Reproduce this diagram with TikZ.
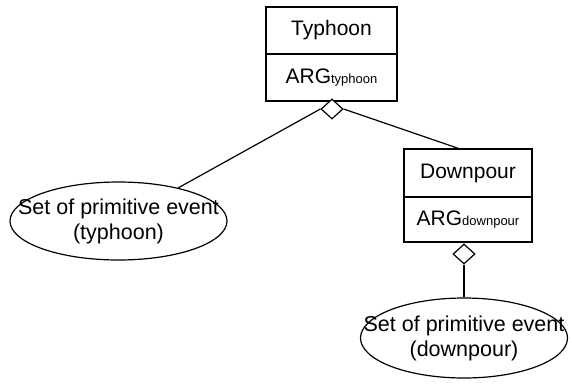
\documentclass[tikz,border=0pt]{standalone}
\usepackage{fontspec}
\setmainfont{Liberation Sans}
\usetikzlibrary{shapes.geometric}
\usetikzlibrary{positioning}
\tikzstyle{cls}=[rectangle,draw,line width=1.2pt,minimum width=131pt,minimum height=47pt,inner sep=0pt,outer sep=0pt,font=\fontsize{21}{25}\selectfont]
\tikzstyle{agg}=[diamond,draw,line width=1.2pt,fill=white,minimum width=22pt,minimum height=20pt,inner sep=0pt]
\tikzstyle{evset}=[ellipse,draw,line width=1.2pt,inner sep=0pt,align=center,font=\fontsize{21.5}{25}\selectfont]
\newcommand{\argsub}[1]{ARG{\fontsize{13}{13}\selectfont #1}}
\newcommand{\nowd}[1]{\makebox[0pt]{#1}}

\begin{document}
\begin{tikzpicture}[x=1pt,y=-1pt]
  \useasboundingbox (0,0) rectangle (572,383);
  \node[cls] (TyN) at (331.5,30.5) {Typhoon};
  \node[cls,below=0pt of TyN] (TyA) {\argsub{typhoon}};
  \node[agg] (TyD) at (332,109) {};
  \node[cls,minimum width=128pt,minimum height=48pt] (DoN) at (468,173) {Downpour};
  \node[cls,minimum width=128pt,minimum height=45pt,below=0pt of DoN] (DoA) {\argsub{downpour}};
  \node[agg] (DoD) at (464,254) {};
  \node[evset,minimum width=217pt,minimum height=78pt] (SetT) at (118.5,221) {\nowd{Set of primitive event}\\\nowd{(typhoon)}};
  \node[evset,minimum width=207pt,minimum height=80pt] (SetD) at (464,338) {\nowd{Set of primitive event}\\\nowd{(downpour)}};
  \draw[line width=1.2pt] (TyD.west) -- (SetT);
  \draw[line width=1.2pt] (TyD.east) -- (DoN.108);
  \draw[line width=1.2pt] (DoD.south) -- (SetD.north);
\end{tikzpicture}
\end{document}
